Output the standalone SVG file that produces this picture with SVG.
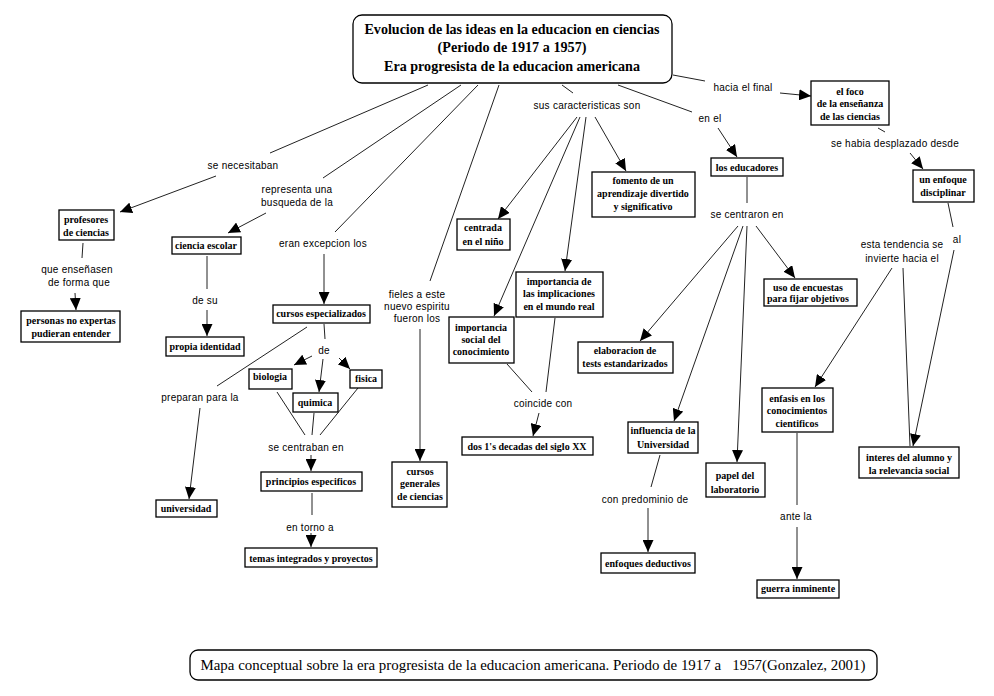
<svg xmlns="http://www.w3.org/2000/svg" width="994" height="696" viewBox="0 0 994 696">
<defs>
<marker id="ah" markerUnits="userSpaceOnUse" markerWidth="12" markerHeight="11" refX="12" refY="5.5" orient="auto">
<path d="M0,0 L12,5.5 L0,11 z" fill="#000"/>
</marker>
<style>
.bx{fill:#fff;stroke:#000;stroke-width:1.3}
.nt{font-family:"Liberation Serif",serif;font-weight:bold;font-size:10px;text-anchor:middle;fill:#000}
.lb{font-family:"Liberation Sans",sans-serif;font-size:10px;text-anchor:middle;fill:#000;letter-spacing:0.25px}
.ln{stroke:#222;stroke-width:1;fill:none}
.ar{stroke:#222;stroke-width:1;fill:none;marker-end:url(#ah)}
.tt{font-family:"Liberation Serif",serif;font-weight:bold;font-size:14px;text-anchor:middle;fill:#000}
</style>
</defs>
<rect width="994" height="696" fill="#fff"/>

<g id="connectors">
<line class="ln" x1="428" y1="85" x2="270" y2="153"/>
<line class="ar" x1="216" y1="176" x2="120" y2="212"/>
<line class="ln" x1="461" y1="85" x2="323" y2="178"/>
<line class="ar" x1="266" y1="213" x2="228" y2="233"/>
<line class="ln" x1="478" y1="85" x2="335" y2="232"/>
<line class="ar" x1="324" y1="254" x2="324" y2="304"/>
<line class="ln" x1="499" y1="85" x2="430" y2="281"/>
<line class="ar" x1="420" y1="329" x2="420" y2="461"/>
<line class="ln" x1="562" y1="85" x2="573" y2="93"/>
<line class="ln" x1="618" y1="85" x2="692" y2="112"/>
<line class="ar" x1="718" y1="128" x2="737" y2="157"/>
<line class="ln" x1="673" y1="75" x2="705" y2="81"/>
<line class="ar" x1="780" y1="93" x2="811" y2="96"/>
<line class="ar" x1="577" y1="117" x2="498" y2="219"/>
<line class="ar" x1="580" y1="117" x2="494" y2="316"/>
<line class="ar" x1="586" y1="117" x2="565" y2="271"/>
<line class="ar" x1="595" y1="117" x2="626" y2="171"/>
<line class="ln" x1="747" y1="177" x2="747" y2="203"/>
<line class="ar" x1="738" y1="226" x2="640" y2="341"/>
<line class="ar" x1="743" y1="226" x2="674" y2="421"/>
<line class="ar" x1="747" y1="226" x2="737" y2="462"/>
<line class="ar" x1="756" y1="226" x2="795" y2="278"/>
<line class="ln" x1="878" y1="128" x2="885" y2="132"/>
<line class="ar" x1="910" y1="153" x2="923" y2="169"/>
<line class="ln" x1="948" y1="203" x2="953" y2="227"/>
<line class="ar" x1="954" y1="250" x2="913" y2="446"/>
<line class="ar" x1="892" y1="268" x2="815" y2="387"/>
<line class="ln" x1="903" y1="268" x2="910" y2="446"/>
<line class="ln" x1="797" y1="433" x2="797" y2="505"/>
<line class="ar" x1="797" y1="527" x2="797" y2="579"/>
<line class="ln" x1="660" y1="455" x2="651" y2="487"/>
<line class="ar" x1="648" y1="508" x2="648" y2="552"/>
<line class="ln" x1="507" y1="364" x2="532" y2="392"/>
<line class="ln" x1="555" y1="318" x2="546" y2="392"/>
<line class="ar" x1="539" y1="413" x2="533" y2="436"/>
<line class="ln" x1="83" y1="243" x2="82" y2="258"/>
<line class="ar" x1="75" y1="293" x2="76" y2="310"/>
<line class="ln" x1="207" y1="256" x2="207" y2="289"/>
<line class="ar" x1="207" y1="310" x2="207" y2="336"/>
<line class="ln" x1="307" y1="327" x2="217" y2="386"/>
<line class="ar" x1="200" y1="408" x2="189" y2="499"/>
<line class="ln" x1="324" y1="324" x2="325" y2="339"/>
<line class="ar" x1="312" y1="356" x2="294" y2="365"/>
<line class="ar" x1="323" y1="359" x2="319" y2="392"/>
<line class="ar" x1="339" y1="358" x2="350" y2="369"/>
<line class="ln" x1="277" y1="392" x2="305" y2="435"/>
<line class="ln" x1="314" y1="413" x2="312" y2="435"/>
<line class="ln" x1="358" y1="388" x2="320" y2="435"/>
<line class="ar" x1="311" y1="455" x2="311" y2="471"/>
<line class="ln" x1="312" y1="493" x2="312" y2="515"/>
<line class="ar" x1="311" y1="533" x2="311" y2="547"/>
</g>

<g id="labels">
<text class="lb" x="243" y="168.5">se necesitaban</text>
<text class="lb" x="297" y="192.5">representa una</text>
<text class="lb" x="297" y="205.5">busqueda de la</text>
<text class="lb" x="323" y="246.5">eran excepcion los</text>
<text class="lb" x="77" y="272.5">que enseñasen</text>
<text class="lb" x="79" y="285.5">de forma que</text>
<text class="lb" x="205" y="303.5">de su</text>
<text class="lb" x="200" y="400.5">preparan para la</text>
<text class="lb" x="324" y="353.5">de</text>
<text class="lb" x="306" y="450.5">se centraban en</text>
<text class="lb" x="310" y="530.5">en torno a</text>
<text class="lb" x="417" y="297.5">fieles a este</text>
<text class="lb" x="417" y="309.5">nuevo espiritu</text>
<text class="lb" x="417" y="321.5">fueron los</text>
<text class="lb" x="587" y="108.5">sus caracteristicas son</text>
<text class="lb" x="543" y="406.5">coincide con</text>
<text class="lb" x="710" y="121.5">en el</text>
<text class="lb" x="743" y="90.5">hacia el final</text>
<text class="lb" x="895" y="146.5">se habia desplazado desde</text>
<text class="lb" x="747" y="217.5">se centraron en</text>
<text class="lb" x="902" y="247.5">esta tendencia se</text>
<text class="lb" x="902" y="261.5">invierte hacia el</text>
<text class="lb" x="957" y="242.5">al</text>
<text class="lb" x="645" y="502.5">con predominio de</text>
<text class="lb" x="796" y="519.5">ante la</text>
</g>

<g id="title">
<rect class="bx" x="353" y="15" width="319" height="68" rx="9"/>
<text class="tt" x="512" y="34" textLength="295" lengthAdjust="spacingAndGlyphs">Evolucion de las ideas en la educacion en ciencias</text>
<text class="tt" x="512" y="52" textLength="149" lengthAdjust="spacingAndGlyphs">(Periodo de 1917 a 1957)</text>
<text class="tt" x="512" y="71" textLength="256" lengthAdjust="spacingAndGlyphs">Era progresista de la educacion americana</text>
</g>
<g id="n-profesores"><rect class="bx" x="59" y="210" width="55" height="30"/><text class="nt" x="86" y="223">profesores</text><text class="nt" x="86" y="236">de ciencias</text></g>
<g id="n-personas"><rect class="bx" x="21" y="311" width="99" height="31"/><text class="nt" x="71" y="324">personas no expertas</text><text class="nt" x="71" y="337">pudieran entender</text></g>
<g id="n-ciencia"><rect class="bx" x="172" y="237" width="69" height="17"/><text class="nt" x="206" y="249">ciencia escolar</text></g>
<g id="n-propia"><rect class="bx" x="166" y="337" width="78" height="19"/><text class="nt" x="205" y="350">propia identidad</text></g>
<g id="n-cursos-esp"><rect class="bx" x="273" y="305" width="97" height="18"/><text class="nt" x="321" y="317">cursos especializados</text></g>
<g id="n-biologia"><rect class="bx" x="249" y="369" width="43" height="20"/><text class="nt" x="270" y="380">biologia</text></g>
<g id="n-quimica"><rect class="bx" x="293" y="393" width="45" height="19"/><text class="nt" x="315" y="406">quimica</text></g>
<g id="n-fisica"><rect class="bx" x="350" y="370" width="32" height="18"/><text class="nt" x="366" y="382">fisica</text></g>
<g id="n-principios"><rect class="bx" x="261" y="472" width="101" height="19"/><text class="nt" x="311" y="485">principios especificos</text></g>
<g id="n-temas"><rect class="bx" x="245" y="548" width="132" height="19"/><text class="nt" x="311" y="562">temas integrados y proyectos</text></g>
<g id="n-universidad"><rect class="bx" x="156" y="500" width="61" height="17"/><text class="nt" x="186" y="512">universidad</text></g>
<g id="n-cursos-gen"><rect class="bx" x="392" y="462" width="55" height="45"/><text class="nt" x="420" y="475">cursos</text><text class="nt" x="420" y="487">generales</text><text class="nt" x="420" y="500">de ciencias</text></g>
<g id="n-centrada"><rect class="bx" x="457" y="219" width="53" height="31"/><text class="nt" x="483" y="231">centrada</text><text class="nt" x="483" y="245">en el niño</text></g>
<g id="n-fomento"><rect class="bx" x="592" y="172" width="103" height="45"/><text class="nt" x="643" y="184">fomento de un</text><text class="nt" x="643" y="197">aprendizaje divertido</text><text class="nt" x="643" y="210">y significativo</text></g>
<g id="n-implicaciones"><rect class="bx" x="516" y="272" width="87" height="45"/><text class="nt" x="559" y="285">importancia de</text><text class="nt" x="559" y="297">las implicaciones</text><text class="nt" x="559" y="310">en el mundo real</text></g>
<g id="n-social"><rect class="bx" x="449" y="317" width="65" height="46"/><text class="nt" x="481" y="331">importancia</text><text class="nt" x="481" y="343">social del</text><text class="nt" x="481" y="355">conocimiento</text></g>
<g id="n-dos"><rect class="bx" x="462" y="437" width="131" height="18"/><text class="nt" x="527" y="450">dos 1's decadas del siglo XX</text></g>
<g id="n-elaboracion"><rect class="bx" x="578" y="342" width="95" height="31"/><text class="nt" x="625" y="354">elaboracion de</text><text class="nt" x="625" y="367">tests estandarizados</text></g>
<g id="n-influencia"><rect class="bx" x="628" y="422" width="70" height="31"/><text class="nt" x="663" y="434">influencia de la</text><text class="nt" x="663" y="448">Universidad</text></g>
<g id="n-papel"><rect class="bx" x="706" y="463" width="59" height="34"/><text class="nt" x="735" y="479">papel del</text><text class="nt" x="735" y="493">laboratorio</text></g>
<g id="n-enfoques"><rect class="bx" x="601" y="553" width="94" height="20"/><text class="nt" x="648" y="567">enfoques deductivos</text></g>
<g id="n-foco"><rect class="bx" x="811" y="81" width="78" height="44"/><text class="nt" x="850" y="95">el foco</text><text class="nt" x="850" y="107">de la enseñanza</text><text class="nt" x="850" y="120">de las ciencias</text></g>
<g id="n-educadores"><rect class="bx" x="711" y="158" width="72" height="18"/><text class="nt" x="747" y="171">los educadores</text></g>
<g id="n-disciplinar"><rect class="bx" x="913" y="170" width="61" height="32"/><text class="nt" x="943" y="183">un enfoque</text><text class="nt" x="943" y="196">disciplinar</text></g>
<g id="n-encuestas"><rect class="bx" x="764" y="279" width="93" height="27"/><text class="nt" x="808" y="291">uso de encuestas</text><text class="nt" x="808" y="302">para fijar objetivos</text></g>
<g id="n-enfasis"><rect class="bx" x="762" y="388" width="71" height="44"/><text class="nt" x="797" y="402">enfasis en los</text><text class="nt" x="797" y="414">conocimientos</text><text class="nt" x="797" y="427">cientificos</text></g>
<g id="n-interes"><rect class="bx" x="859" y="447" width="100" height="31"/><text class="nt" x="909" y="461">interes del alumno y</text><text class="nt" x="909" y="474">la relevancia social</text></g>
<g id="n-guerra"><rect class="bx" x="757" y="580" width="82" height="18"/><text class="nt" x="798" y="592">guerra inminente</text></g>
<g id="footer"><rect class="bx" x="190" y="650" width="687" height="30" rx="8"/><text x="533" y="670" font-family="Liberation Serif, serif" font-size="14" text-anchor="middle" fill="#000" xml:space="preserve" textLength="665" lengthAdjust="spacingAndGlyphs">Mapa conceptual sobre la era progresista de la educacion americana. Periodo de 1917 a   1957(Gonzalez, 2001)</text></g>
</svg>
